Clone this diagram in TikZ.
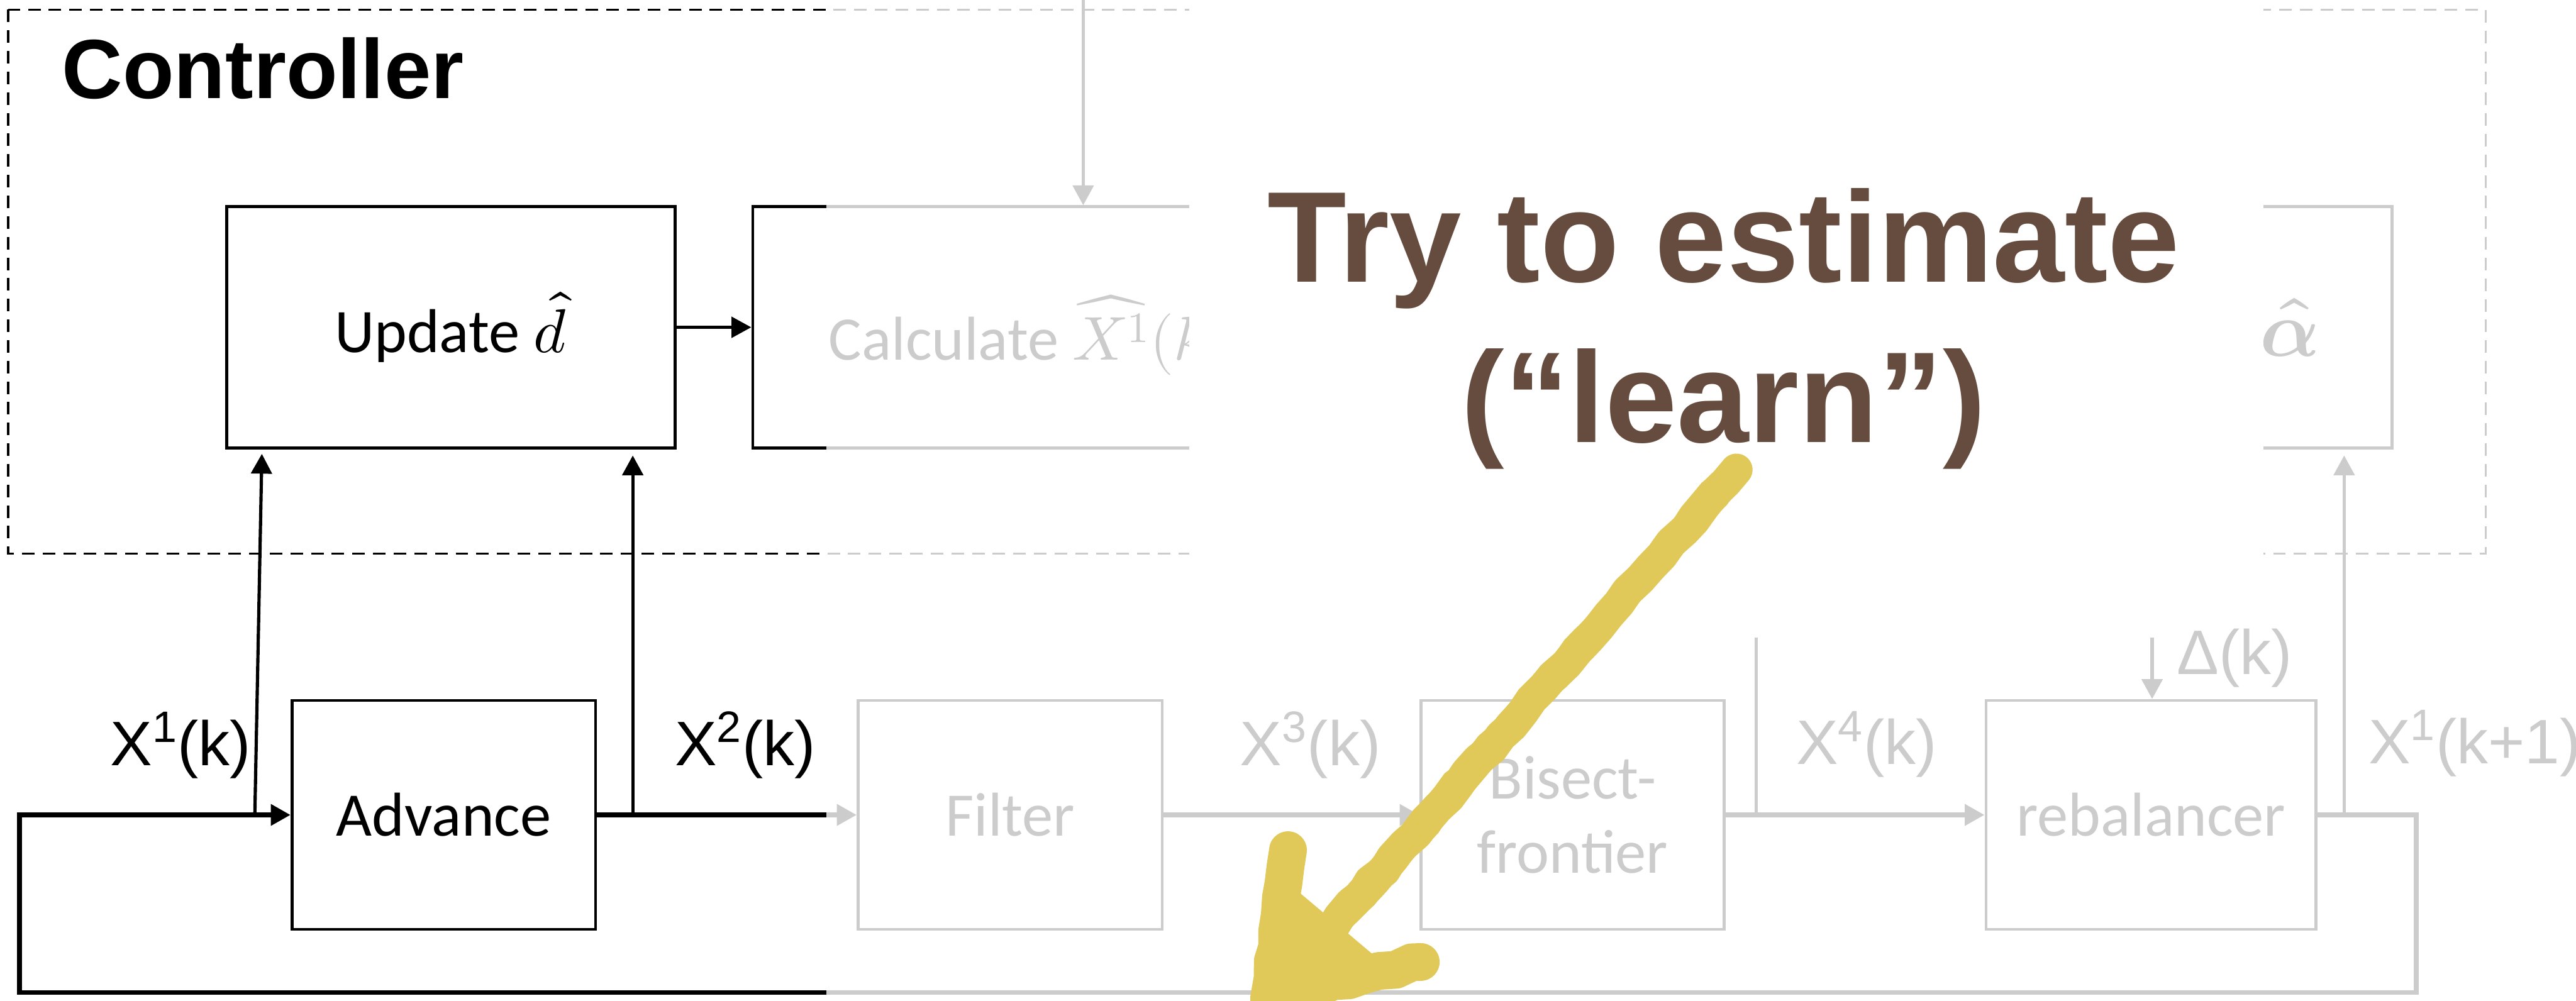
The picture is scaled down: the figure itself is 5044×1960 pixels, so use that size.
\documentclass[tikz,border=0pt]{standalone}
\usepackage{fontspec}
\usepackage{unicode-math}
\setmainfont{Carlito}
\newfontfamily\headfont{Liberation Sans}
\newfontfamily\sigfont{Liberation Sans}
\usetikzlibrary{arrows.meta,calc,decorations.pathmorphing}
\definecolor{chalk}{RGB}{224,201,88}
\definecolor{cocoa}{RGB}{102,76,62}

\begin{document}
\begin{tikzpicture}[
  x=0.01cm, y=-0.01cm,
  >={Triangle[length=11pt,width=11.5pt]},
  block/.style={draw, line width=1.7pt, inner sep=0pt, minimum height=4.48cm, boxfont},
  boxfont/.style={font=\fontsize{34.5}{41.5}\selectfont},
  flow/.style={line width=2.6pt},
  tap/.style={line width=1.8pt},
  sig/.style={font=\sigfont\fontsize{35}{42}\selectfont, inner sep=0pt, anchor=base},
  ctrl/.style={line width=1.2pt, dash pattern=on 7pt off 4.5pt},
  note/.style={font=\headfont\bfseries\fontsize{72}{89}\selectfont, text=cocoa, inner sep=0pt, anchor=base},
  scribble/.style={draw=chalk, line cap=round, line join=round,
    decorate, decoration={random steps, segment length=9pt, amplitude=1pt}}
]
  \pgfmathsetseed{7}
  \useasboundingbox (0,0) rectangle (5044,1960);

  % Controller frame
  \draw[ctrl] (16,19) rectangle (4867,1084);
  \node[font=\headfont\bfseries\fontsize{46.8}{56}\selectfont, anchor=base west, inner sep=0pt]
    (ctrltitle) at (121,193) {Controller};

  % estimator row
  \node[block, minimum width=8.78cm, minimum height=4.72cm] (update) at (883,641) {Update $\hat{d}$};
  \node[block, minimum width=11.3cm, minimum height=4.72cm, anchor=west] (calc) at (1471,641) {};
  \node[boxfont, anchor=base west, inner sep=0pt] (calctxt) at (1622,705) {Calculate $\widehat{X^1}(k)$};
  \node[block, minimum width=4cm, minimum height=4.72cm, font=\fontsize{44}{52}\selectfont]
    (alpha) at (4484,641) {$\hat{\symbf{\alpha}}$};

  % plant row
  \node[block, minimum width=5.94cm] (advance) at (869,1596) {Advance};
  \node[block, minimum width=5.95cm] (filter) at (1978,1596) {Filter};
  \node[block, minimum width=5.93cm, align=center] (bisect) at (3079,1596) {Bisect-\\frontier};
  \node[block, minimum width=6.46cm] (rebal) at (4212,1596) {rebalancer};

  % loop
  \coordinate (loopR) at (4731,1944);
  \coordinate (loopL) at (38,1944);
  \draw[flow,->] (rebal.east) -| (loopR) -- (loopL) |- (advance.west);
  \draw[flow,->] (advance) -- (filter);
  \draw[flow,->] (filter) -- (bisect);
  \draw[flow,->] (bisect) -- (rebal);

  % taps into the controller
  \coordinate (tap1) at (499,1596);
  \coordinate (d1) at (513,877);
  \coordinate (tap2) at (1239,1596);
  \coordinate (tap4) at (3439,1596);
  \coordinate (cut4) at (3439,1249);
  \coordinate (tap5) at (4590,1596);
  \coordinate (seed) at (2121,0);
  \coordinate (dtop) at (4214,1249);
  \draw[tap,->,shorten >=3.4pt] (tap1) -- (d1);
  \draw[tap,->,shorten >=3.4pt] (tap2) -- (tap2 |- update.south);
  \draw[tap,->] (update) -- (calc.west |- update);
  \draw[tap,->] (seed) -- (seed |- calc.north);
  \draw[tap] (tap4) -- (cut4);
  \draw[tap,->] (dtop) -- (dtop |- rebal.north);
  \draw[tap,->,shorten >=3.4pt] (tap5) -- (tap5 |- alpha.south);

  % signals
  \node[sig] (x1) at (354,1499) {X\textsuperscript{1}(k)};
  \node[sig] (x2) at (1459,1499) {X\textsuperscript{2}(k)};
  \node[sig] (x3) at (2566,1499) {X\textsuperscript{3}(k)};
  \node[sig] (x4) at (3655,1497) {X\textsuperscript{4}(k)};
  \node[sig, anchor=base west] (x1next) at (4637,1495) {X\textsuperscript{1}(k+1)};
  \node[sig, anchor=base west] (delta) at (4262,1321) {Δ(k)};

  % fade everything past Update/Advance
  \fill[white, opacity=0.8] (1618,0) rectangle (5044,1960);
  \fill[white] (2329,0) rectangle (4432,1200);

  \node[note] (note1) at (3375,552) {Try to estimate};
  \node[note] (note2) at (3375,866) {(“learn”)};

  % chalk arrow
  \coordinate (chalkFrom) at (3400,920);
  \coordinate (chalkTip) at (2485,1955);
  \coordinate (barbA) at (2522,1665);
  \coordinate (barbB) at (2782,1884);
  \fill[chalk] (chalkTip) -- ($(chalkTip)!0.8!(barbA)$) -- ($(chalkTip)!0.8!(barbB)$) -- cycle;
  \draw[scribble, line width=18pt] (chalkFrom) -- (chalkTip);
  \draw[scribble, line width=5pt] ([shift={(17,14)}]chalkFrom) -- ([shift={(17,14)}]chalkTip);
  \draw[scribble, line width=5pt] ([shift={(-17,-14)}]chalkFrom) -- ([shift={(-17,-14)}]chalkTip);
  \draw[scribble, line width=21pt] (barbA) -- (chalkTip) -- (barbB);
\end{tikzpicture}
\end{document}
